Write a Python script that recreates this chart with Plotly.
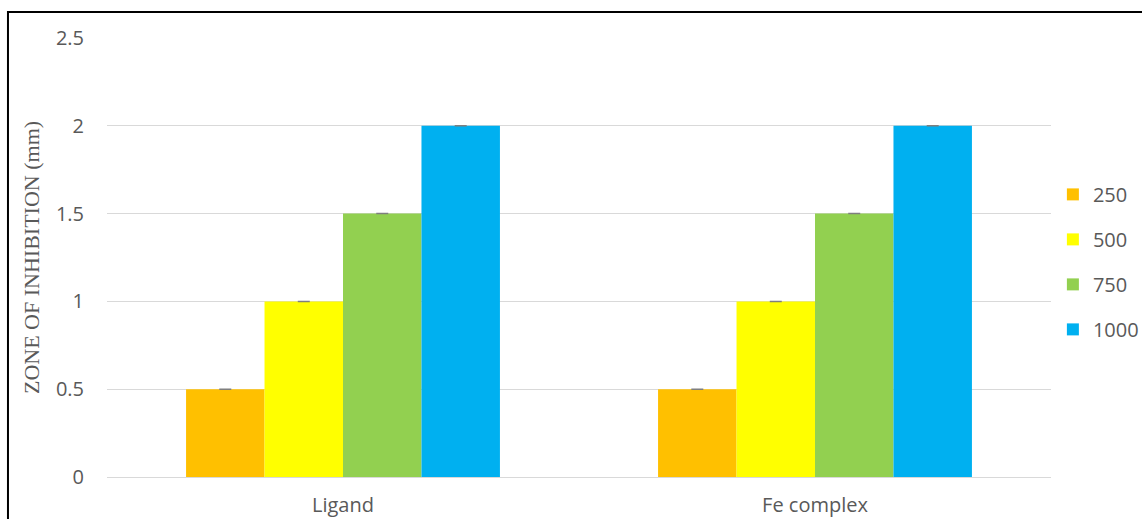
import plotly.graph_objects as go

categories = ["Ligand", "Fe complex"]
series_names = ["250", "500", "750", "1000"]
values_250 = [0.5, 0.5]
values_500 = [1.0, 1.0]
values_750 = [1.5, 1.5]
values_1000 = [2.0, 2.0]
errors = [0, 0]
colors = ["#FFC000", "#FFFF00", "#92D050", "#00B0F0"]

all_values = [values_250, values_500, values_750, values_1000]

fig = go.Figure()
for name, vals, col in zip(series_names, all_values, colors):
    fig.add_trace(go.Bar(
        x=categories, y=vals, name=name, legendgroup=name,
        marker=dict(color=col, line=dict(width=0)),
        error_y=dict(type="data", array=errors, visible=True,
                     color="#7F7F7F", thickness=1.5, width=6),
    ))

sans = "Open Sans, Lato, sans-serif"
fig.update_layout(
    width=1142, height=519,
    margin=dict(l=107, r=91, t=38, b=42, autoexpand=False),
    paper_bgcolor="white", plot_bgcolor="white",
    barmode="group", bargap=0.335, bargroupgap=0,
    font=dict(family=sans, color="#595959", size=20),
    showlegend=True,
    legend=dict(x=1.002, xanchor="left", y=0.49, yanchor="middle",
                font=dict(family=sans, size=20, color="#595959"),
                traceorder="grouped", tracegroupgap=16,
                bgcolor="rgba(0,0,0,0)"),
    xaxis=dict(showgrid=False, showline=False, ticks="", automargin=False,
               ticklabelstandoff=14, tickfont=dict(family=sans, size=20, color="#595959")),
    yaxis=dict(range=[0, 2.5], dtick=0.5, showgrid=True, gridcolor="#D9D9D9",
               gridwidth=1, zeroline=True, zerolinecolor="#D9D9D9", zerolinewidth=1,
               showline=False, ticks="", ticklabelstandoff=22, automargin=False,
               tickfont=dict(family=sans, size=20, color="#595959"),
               title=dict(text="ZONE OF INHIBITION (mm)", standoff=10,
                          font=dict(family="Liberation Serif, Times New Roman, serif",
                                    size=22, color="#595959"))),
    shapes=[dict(type="rect", xref="paper", yref="paper",
                 x0=-0.1049, x1=1.11, y0=-0.12, y1=1.0592,
                 line=dict(color="black", width=2), fillcolor="rgba(0,0,0,0)",
                 layer="above")],
)

fig.write_html("out.html")
